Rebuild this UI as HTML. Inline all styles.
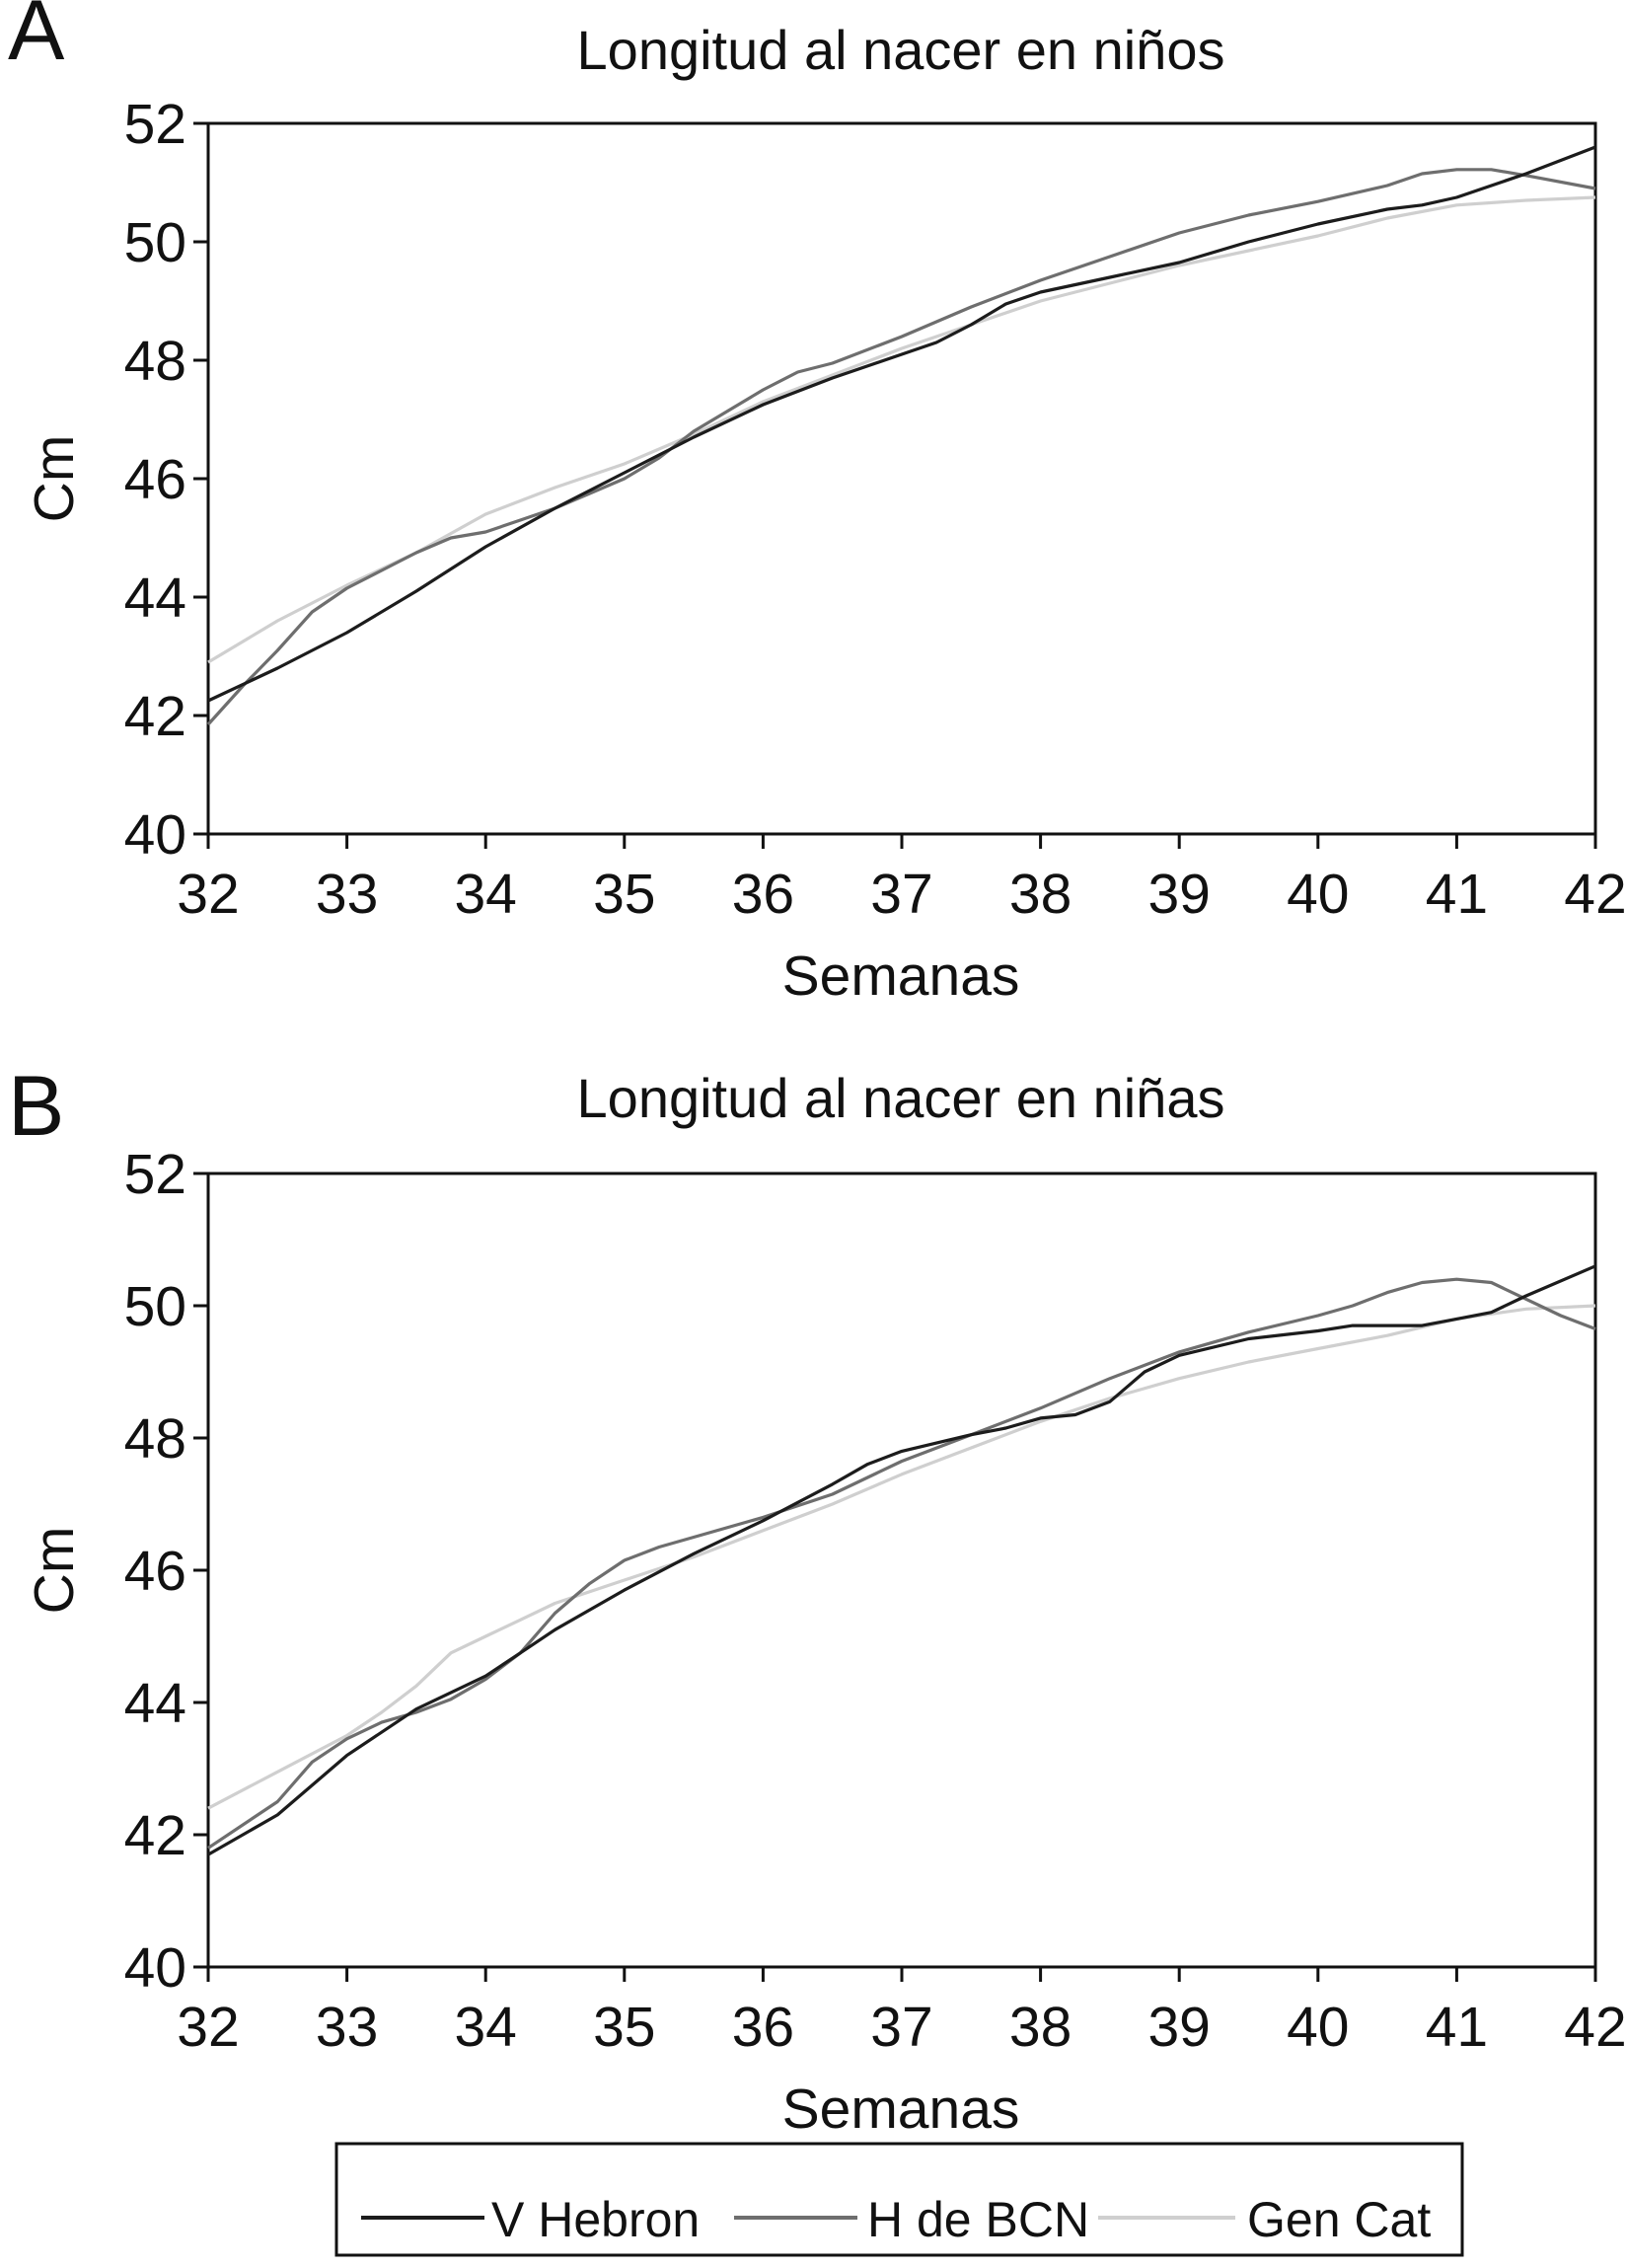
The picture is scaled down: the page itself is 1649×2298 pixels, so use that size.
<!DOCTYPE html>
<html><head><meta charset="utf-8"><style>
html,body{margin:0;padding:0;background:#fff;}
svg{display:block;font-family:"Liberation Sans",Arial,sans-serif;}
</style></head><body>
<svg id="fig" width="1649" height="2298" viewBox="0 0 1649 2298" xmlns="http://www.w3.org/2000/svg"></svg>
<script>
// ---- data ----
const xTicks = [32,33,34,35,36,37,38,39,40,41,42];
const yTicks = [40,42,44,46,48,50,52];
const seriesNames = ["V Hebron","H de BCN","Gen Cat"];

const aHebronX = [32,32.5,33,33.5,34,34.5,35,35.5,36,36.5,37,37.25,37.5,37.75,38,38.5,39,39.5,40,40.5,40.75,41,41.5,42];
const aHebronY = [42.25,42.8,43.4,44.1,44.85,45.5,46.1,46.7,47.25,47.7,48.1,48.3,48.6,48.95,49.15,49.4,49.65,50.0,50.3,50.55,50.62,50.75,51.15,51.6];
const aBcnX = [32,32.25,32.5,32.75,33,33.25,33.5,33.75,34,34.25,34.5,34.75,35,35.25,35.5,35.75,36,36.25,36.5,37,37.5,38,38.5,39,39.5,40,40.5,40.75,41,41.25,41.5,42];
const aBcnY = [41.85,42.5,43.1,43.75,44.15,44.45,44.75,45.0,45.1,45.3,45.5,45.75,46.0,46.35,46.8,47.15,47.5,47.8,47.95,48.4,48.9,49.35,49.75,50.15,50.45,50.68,50.95,51.15,51.22,51.22,51.12,50.9];
const aCatX = [32,32.5,33,33.5,34,34.5,35,35.5,36,36.5,37,37.5,38,38.5,39,39.5,40,40.5,41,41.5,42];
const aCatY = [42.9,43.6,44.2,44.75,45.4,45.85,46.25,46.75,47.3,47.75,48.2,48.6,49.0,49.3,49.6,49.85,50.1,50.4,50.62,50.7,50.75];

const bHebronX = [32,32.5,33,33.5,34,34.25,34.5,35,35.5,36,36.5,36.75,37,37.5,37.75,38,38.25,38.5,38.75,39,39.5,40,40.25,40.75,41,41.25,41.5,42];
const bHebronY = [41.7,42.3,43.2,43.9,44.4,44.75,45.1,45.7,46.25,46.75,47.3,47.6,47.8,48.05,48.15,48.3,48.35,48.55,49.0,49.25,49.5,49.62,49.7,49.7,49.8,49.9,50.15,50.6];
const bBcnX = [32,32.5,32.75,33,33.25,33.5,33.75,34,34.25,34.5,34.75,35,35.25,35.5,36,36.5,37,37.5,38,38.5,39,39.5,40,40.25,40.5,40.75,41,41.25,41.5,41.75,42];
const bBcnY = [41.8,42.5,43.1,43.45,43.7,43.85,44.05,44.35,44.75,45.35,45.8,46.15,46.35,46.5,46.8,47.15,47.65,48.05,48.45,48.9,49.3,49.6,49.85,50.0,50.2,50.35,50.4,50.35,50.1,49.85,49.65];
const bCatX = [32,32.5,33,33.25,33.5,33.75,34,34.25,34.5,35,35.5,36,36.5,37,37.5,38,38.5,39,39.5,40,40.5,41,41.5,42];
const bCatY = [42.4,42.95,43.5,43.85,44.25,44.75,45.0,45.25,45.5,45.85,46.2,46.6,47.0,47.45,47.85,48.25,48.6,48.9,49.15,49.35,49.55,49.8,49.95,50.0];

// ---- drawing ----
const NS = "http://www.w3.org/2000/svg";
const svg = document.getElementById('fig');
const colors = ["#1c1c1c","#6e6e6e","#cfcfcf"];
function mk(tag, attrs, parent){
  const e = document.createElementNS(NS, tag);
  for (const k in attrs) e.setAttribute(k, attrs[k]);
  (parent||svg).appendChild(e);
  return e;
}
function drawPanel(p){
  const g = mk('g', {});
  
  
  const x0=211, x1=1617, top=p.top, bot=p.bot;
  const sx = v => x0 + (v-32)/(42-32)*(x1-x0);
  const sy = v => bot - (v-40)/(52-40)*(bot-top);
  const letter = mk('text', {x:8, y:p.letterY, 'font-size':86, fill:'#111'}, g);
  letter.textContent = p.letter;
  
  
  const title = mk('text', {x:913, y:p.titleY, 'font-size':56, 'text-anchor':'middle', fill:'#111'}, g);
  title.textContent = p.title;
  
  
  const frame = mk('rect', {x:x0, y:top, width:x1-x0, height:bot-top, fill:'none', stroke:'#111', 'stroke-width':3}, g);
  
  
  yTicks.forEach(v=>{
    const y = sy(v);
    mk('line', {x1:x0-15, x2:x0, y1:y, y2:y, stroke:'#111','stroke-width':3}, g);
    const t = mk('text', {x:x0-22, y:y+20, 'font-size':57, 'text-anchor':'end', fill:'#111'}, g);
    t.textContent = v;
    
    
  });
  xTicks.forEach(v=>{
    const x = sx(v);
    mk('line', {x1:x, x2:x, y1:bot, y2:bot+15, stroke:'#111','stroke-width':3}, g);
    const t = mk('text', {x:x, y:bot+80, 'font-size':57, 'text-anchor':'middle', fill:'#111'}, g);
    t.textContent = v;
    
    
  });
  const xt = mk('text', {x:913, y:bot+163, 'font-size':57, 'text-anchor':'middle', fill:'#111'}, g);
  xt.textContent = 'Semanas';
  
  
  const cy = (top+bot)/2;
  const yt = mk('text', {x:0, y:0, 'font-size':57, 'text-anchor':'middle', fill:'#111', transform:`translate(74 ${cy}) rotate(-90)`}, g);
  yt.textContent = 'Cm';
  
  
  [2,1,0].forEach(i=>{
    const xs = p.xs[i], ys = p.ys[i];
    const d = xs.map((x,j)=>(j?'L':'M')+sx(x).toFixed(1)+','+sy(ys[j]).toFixed(1)).join(' ');
    const path = mk('path', {d:d, fill:'none', stroke:colors[i], 'stroke-width':3.2, 'stroke-linejoin':'round'}, g);
    
    
  });
}
drawPanel({id:'boys', letter:'A', letterY:60, title:'Longitud al nacer en niños', titleY:70, top:125, bot:845,
  xs:[aHebronX,aBcnX,aCatX], ys:[aHebronY,aBcnY,aCatY]});
drawPanel({id:'girls', letter:'B', letterY:1150, title:'Longitud al nacer en niñas', titleY:1132, top:1189, bot:1993,
  xs:[bHebronX,bBcnX,bCatX], ys:[bHebronY,bBcnY,bCatY]});

const lg = mk('g', {});


mk('rect', {x:341, y:2172, width:1141, height:113, fill:'none', stroke:'#111', 'stroke-width':3}, lg);
const legX = [[366,491,498],[744,869,879],[1113,1252,1264]];
seriesNames.forEach((n,i)=>{
  const l = mk('line', {x1:legX[i][0], x2:legX[i][1], y1:2247, y2:2247, stroke:colors[i], 'stroke-width':4}, lg);
  
  
  const t = mk('text', {x:legX[i][2], y:2266, 'font-size':50, fill:'#111'}, lg);
  t.textContent = n;
  
  
});
</script>
</body></html>
